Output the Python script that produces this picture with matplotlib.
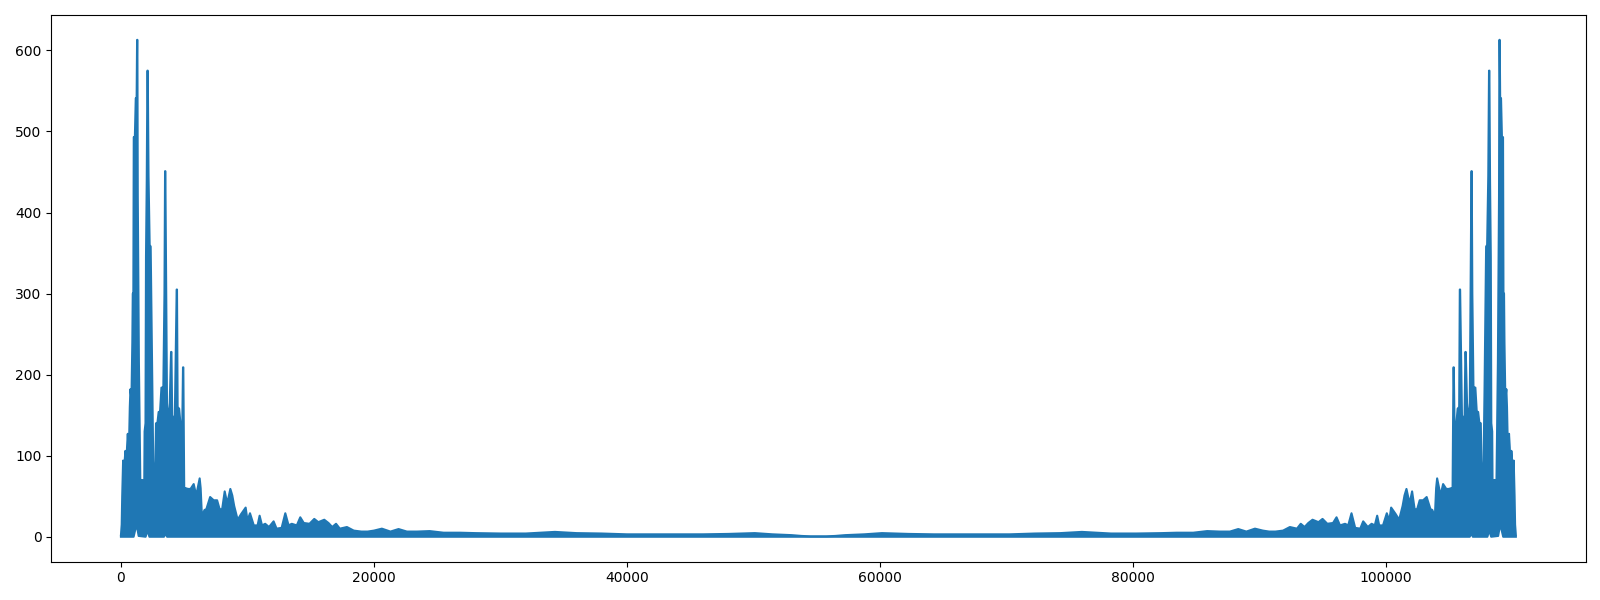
#!/usr/bin/env python3
# -*- coding: utf-8 -*

import matplotlib
matplotlib.use("Agg")
import matplotlib.pyplot as plt
import numpy as np

COLOR_LINE = "#1f77b4"

# number of FFT bins, the spectrum is mirrored around N / 2
N_BINS = 110250

# upper envelope of the magnitude spectrum, left half (bin, magnitude)
upper_bin = [
    0, 60, 100, 171, 230, 300, 355, 420, 480, 540, 620, 700, 750, 830,
    900, 934, 980, 1013, 1100, 1171, 1240, 1276, 1300, 1330, 1380, 1420,
    1480, 1530, 1700, 1790, 1840, 1870, 1940, 1980, 2040, 2092, 2120,
    2180, 2270, 2350, 2420, 2480, 2550, 2620, 2700, 2770, 2880, 2980,
    3090, 3200, 3300, 3340, 3440, 3487, 3510, 3560, 3640, 3740, 3850,
    3960, 3990, 4050, 4170, 4260, 4405, 4430, 4480, 4600, 4700, 4850,
    4905, 4930, 5000, 5093, 5300, 5500, 5750, 5950, 6222, 6300, 6400,
    6600, 6750, 7050, 7330, 7600, 7800, 8000, 8200, 8400, 8646, 8800,
    8950, 9225, 9500, 9857, 10000, 10200, 10500, 10800, 10960, 11150,
    11400, 11700, 12066, 12300, 12700, 12990, 13250, 13500, 13900, 14173,
    14450, 14900, 15280, 15600, 16070, 16400, 16700, 17000, 17300, 17860,
    18400, 19000, 19500, 20000, 20620, 21300, 21940, 22600, 23400, 24400,
    25500, 26800, 28000, 30000, 32000, 34300, 36000, 38000, 40000, 43000,
    46000, 48000, 50100, 51500, 53000, 53800, 54500, 55125,
]
upper_mag = [
    2, 15, 50, 94, 60, 95, 106, 75, 110, 127, 100, 160, 182, 170,
    240, 300, 300, 493, 493, 541, 541, 613, 613, 420, 300, 215,
    140, 70, 70, 17, 60, 130, 140, 345, 440, 575, 575,
    445, 360, 358, 265, 175, 94, 67, 67, 140, 140, 154,
    154, 184, 184, 170, 300, 451, 451, 340, 165, 145, 160,
    228, 228, 150, 143, 150, 305, 305, 160, 158, 140, 140,
    209, 209, 60, 60, 59, 59, 65, 51, 72, 60, 25,
    33, 34, 49, 45, 45, 34, 34, 56, 41, 59, 51,
    38, 21, 28, 36, 20, 29, 14, 14, 26, 14,
    16, 12, 19, 10, 11, 29, 14, 16, 14, 24,
    17, 16, 22, 18, 21, 17, 12, 16, 10, 12,
    7.6, 6.4, 6.4, 7.6, 10, 6.4, 9.5, 6.4, 6.4, 7,
    5, 5, 4.5, 4, 4, 6, 4.5, 4, 3, 3,
    3, 3.5, 4.5, 3, 2, 1, 0.5, 0.5,
]

# lower envelope, left half
lower_bin = [0, 1000, 1150, 1276, 1400, 1950, 2100, 2250, 3400, 3500, 3650, 55125]
lower_mag = [0, 0, 10, 12, 1, 0, 8, 0, 0, 4, 0, 0]


def mirror(bins, mags):
    bins = np.asarray(bins, dtype=float)
    mags = np.asarray(mags, dtype=float)
    x = np.concatenate([bins, N_BINS - bins[::-1]])
    y = np.concatenate([mags, mags[::-1]])
    return x, y


x_up, y_up = mirror(upper_bin, upper_mag)
x_lo, y_lo = mirror(lower_bin, lower_mag)

fig = plt.figure(figsize=(16, 6), dpi=100)
ax = fig.add_subplot(111)
ax.fill(np.concatenate([x_up, x_lo[::-1]]), np.concatenate([y_up, y_lo[::-1]]),
        color=COLOR_LINE, linewidth=0)
ax.plot(x_up, y_up, color=COLOR_LINE, linewidth=1.5)
ax.plot(x_lo, y_lo, color=COLOR_LINE, linewidth=1.5)

plt.subplots_adjust(left=0.032, right=0.991, top=0.975, bottom=0.064)
plt.savefig("out.png", dpi=100)
